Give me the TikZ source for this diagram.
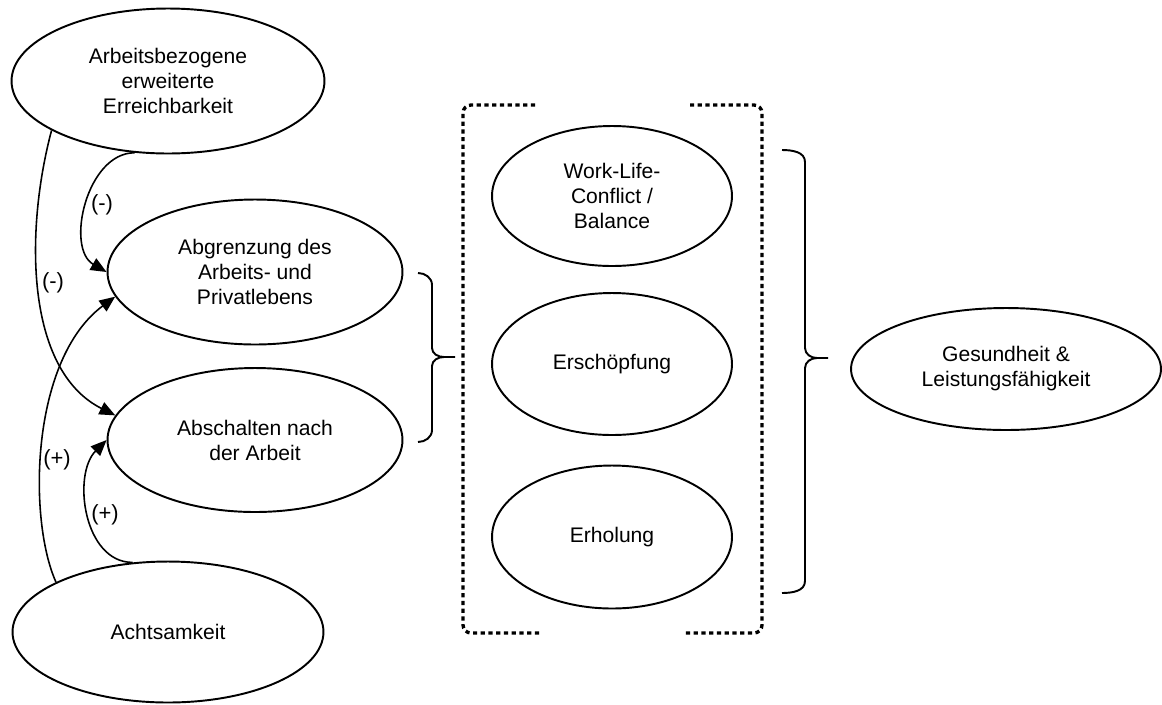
\documentclass[tikz,border=0pt]{standalone}
\usepackage{fontspec}
\setmainfont{Liberation Sans}
\usetikzlibrary{shapes.geometric,arrows.meta}

\begin{document}
\begin{tikzpicture}[x=0.02cm,y=-0.02cm,
  bubble/.style={ellipse,draw,line width=1.1pt,inner sep=0pt,align=center,font=\fontsize{12}{14.2}\selectfont},
  link/.style={line width=0.9pt,-{Triangle[length=9pt,width=7.5pt]}},
  sign/.style={font=\fontsize{12.5}{14}\selectfont},
  frame/.style={line width=1.9pt,dash pattern=on 2.4pt off 2pt,rounded corners=0.16cm},
  curly/.style={line width=1.1pt}]
\useasboundingbox (0,0) rectangle (1162,704);
% left column
\node[bubble,minimum width=6.26cm,minimum height=2.9cm] (erreich) at (168,81) {Arbeitsbezogene\\erweiterte\\Erreichbarkeit};
\node[bubble,minimum width=5.9cm,minimum height=2.9cm] (grenze) at (255,272) {Abgrenzung des\\Arbeits- und\\Privatlebens};
\node[bubble,minimum width=5.9cm,minimum height=2.88cm] (abschalt) at (255,440) {Abschalten nach\\der Arbeit};
\node[bubble,minimum width=6.22cm,minimum height=2.82cm] (achtsam) at (168,632) {Achtsamkeit};
% middle column
\node[bubble,minimum width=4.8cm,minimum height=2.8cm] (wlc) at (612,196) {Work-Life-\\Conflict /\\Balance};
\node[bubble,minimum width=4.8cm,minimum height=2.84cm] (ersch) at (612,364) {Erschöpfung};
\node[bubble,minimum width=4.8cm,minimum height=2.86cm] (erhol) at (612,537) {Erholung};
% right
\node[bubble,minimum width=6.2cm,minimum height=2.44cm] (gesund) at (1006,369) {Gesundheit \&\\Leistungsfähigkeit};
% effects
\draw[link] (erreich.245) to[out=180,in=150] (grenze.west);
\draw[link] (erreich.203) .. controls (25,230) and (25,370) .. (abschalt.170);
\draw[link] (achtsam.156) .. controls (28,520) and (30,360) .. (grenze.190);
\draw[link] (achtsam.117) to[out=180,in=225] (abschalt.west);
\node[sign] (neg1) at (102,205) {(-)};
\node[sign] (neg2) at (53,283) {(-)};
\node[sign] (pos1) at (57,460) {(+)};
\node[sign] (pos2) at (105,515) {(+)};
% dotted frame
\draw[frame] (535,105) -- (463,105) -- (463,633) -- (540,633);
\draw[frame] (690,105) -- (762,105) -- (762,633) -- (685,633);
% braces
\draw[curly] (418,273) to[out=0,in=90] (432,285) -- (432,348) to[out=270,in=180] (444,357) -- (455,357);
\draw[curly] (444,357) to[out=180,in=90] (432,366) -- (432,430) to[out=270,in=0] (418,442);
\draw[curly] (782,150) to[out=0,in=90] (805,162) -- (805,348) to[out=270,in=180] (817,358) -- (828,358);
\draw[curly] (817,358) to[out=180,in=90] (805,368) -- (805,581) to[out=270,in=0] (782,593);
\end{tikzpicture}
\end{document}
